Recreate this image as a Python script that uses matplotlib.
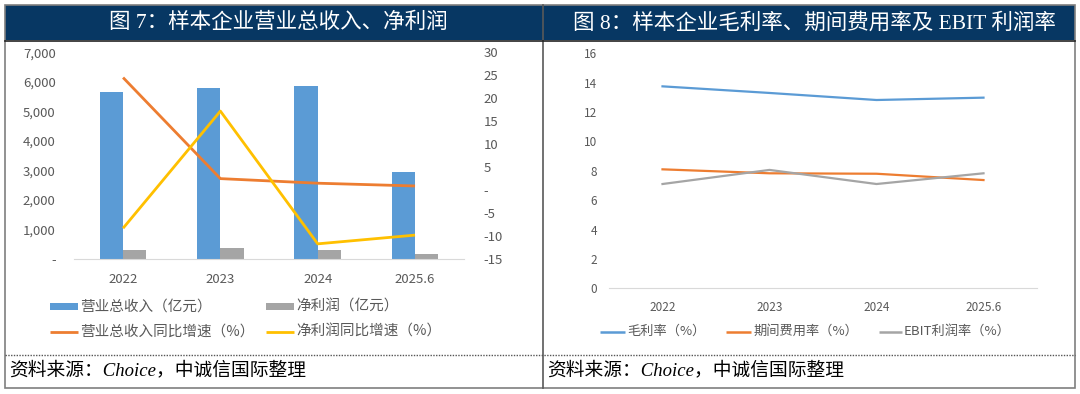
import numpy as np
import matplotlib
matplotlib.use("Agg")
import matplotlib.pyplot as plt
from matplotlib.patches import Rectangle
from matplotlib.lines import Line2D

plt.rcParams['font.family'] = ['Noto Sans CJK SC', 'DejaVu Sans']

# ---- data ----
years = ['2022', '2023', '2024', '2025.6']
revenue = [5640, 5780, 5870, 2950]          # 营业总收入（亿元）
net_profit = [300, 360, 300, 170]           # 净利润（亿元）
revenue_yoy = [24.5, 2.5, 1.5, 0.9]         # 营业总收入同比增速（%）
profit_yoy = [-8.3, 17.2, -11.7, -9.8]      # 净利润同比增速（%）

gross_margin = [13.75, 13.3, 12.82, 12.98]  # 毛利率（%）
expense_ratio = [8.1, 7.83, 7.8, 7.37]      # 期间费用率（%）
ebit_margin = [7.1, 8.06, 7.1, 7.83]        # EBIT利润率（%）

left_ticks = [0, 1000, 2000, 3000, 4000, 5000, 6000, 7000]
right_ticks = [-15, -10, -5, 0, 5, 10, 15, 20, 25, 30]
margin_ticks = [0, 2, 4, 6, 8, 10, 12, 14, 16]

BLUE = '#5b9bd5'
GREY = '#a5a5a5'
ORANGE = '#ed7d31'
YELLOW = '#ffc000'
TXT = '#595959'
NAVY = '#073763'

W, H = 1080, 394
fig = plt.figure(figsize=(W / 100, H / 100), dpi=100)


def fx(px):
    return px / W


def fy(py):
    return 1 - py / H


def fmt_thousands(v):
    return '-' if v == 0 else f'{v:,}'


def fmt_plain(v):
    return '-' if v == 0 else f'{v}'


# ---- frame, banners, source ----
fig.add_artist(Rectangle((fx(5), fy(40)), fx(1075) - fx(5), (40 - 5) / H,
                         transform=fig.transFigure, facecolor=NAVY, edgecolor='none'))
fig.add_artist(Rectangle((fx(5), fy(387.5)), fx(1075) - fx(5), (387.5 - 5) / H,
                         transform=fig.transFigure, facecolor='none', edgecolor='#7f7f7f', lw=1.2))
fig.add_artist(Line2D([fx(542.7)] * 2, [fy(5), fy(387.5)], transform=fig.transFigure,
                      color='#595959', lw=1.2))
fig.add_artist(Line2D([fx(5), fx(1075)], [fy(40.5)] * 2, transform=fig.transFigure,
                      color='#222222', lw=1.2))
fig.add_artist(Line2D([fx(5), fx(1075)], [fy(355)] * 2, transform=fig.transFigure,
                      color='#555555', lw=1.0, ls=(0, (1, 1))))

title_font = ['Liberation Serif', 'Noto Sans CJK SC']
fig.text(fx(278), fy(23), '图 7：样本企业营业总收入、净利润', color='white',
         fontsize=15.5, family=title_font, ha='center', va='center')
fig.text(fx(814), fy(23), '图 8：样本企业毛利率、期间费用率及 EBIT 利润率', color='white',
         fontsize=15.5, family=title_font, ha='center', va='center')

src_font = ['Liberation Serif', 'Noto Sans CJK SC']
for x0 in (9, 547):
    fig.text(fx(x0), fy(370), '资料来源：Choice，中诚信国际整理', color='black',
             fontsize=13.5, family=src_font, style='italic', ha='left', va='center')

# ---- left chart: revenue & net profit ----
x = np.arange(len(years))
ax1 = fig.add_axes([fx(74.4), fy(259), fx(463.7) - fx(74.4), (259 - 52.3) / H])
bw = 0.24
ax1.bar(x - bw / 2, revenue, width=bw, color=BLUE, zorder=2)
ax1.bar(x + bw / 2, net_profit, width=bw, color=GREY, zorder=2)
ax1.set_xlim(-0.5, len(years) - 0.5)
ax1.set_ylim(0, 7000)
ax1.set_yticks(left_ticks)
ax1.set_yticklabels([fmt_thousands(v) for v in left_ticks])
ax1.set_xticks(x)
ax1.set_xticklabels(years)

ax2 = ax1.twinx()
ax2.plot(x, revenue_yoy, color=ORANGE, lw=2.0, solid_capstyle='butt')
ax2.plot(x, profit_yoy, color=YELLOW, lw=2.0, solid_capstyle='butt')
ax2.set_ylim(-15, 30)
ax2.set_yticks(right_ticks)
ax2.set_yticklabels([fmt_plain(v) for v in right_ticks])

for a in (ax1, ax2):
    for s in a.spines.values():
        s.set_visible(False)
    a.set_facecolor('none')
ax1.spines['bottom'].set_visible(True)
ax1.spines['bottom'].set_color('#d9d9d9')
ax1.spines['bottom'].set_linewidth(0.8)
ax1.tick_params(axis='y', length=0, pad=13.5, labelsize=9.5, labelcolor=TXT)
ax1.tick_params(axis='x', length=0, pad=10, labelsize=9.5, labelcolor=TXT)
ax2.tick_params(axis='y', length=0, pad=14.5, labelsize=9.5, labelcolor=TXT)

# ---- right chart: margins ----
ax3 = fig.add_axes([fx(609), fy(288.3), fx(1037) - fx(609), (288.3 - 53.3) / H])
ax3.plot(x, gross_margin, color=BLUE, lw=1.6)
ax3.plot(x, expense_ratio, color=ORANGE, lw=1.6)
ax3.plot(x, ebit_margin, color=GREY, lw=1.6)
ax3.set_xlim(-0.5, len(years) - 0.5)
ax3.set_ylim(0, 16)
ax3.set_yticks(margin_ticks)
ax3.set_xticks(x)
ax3.set_xticklabels(years)
for s in ax3.spines.values():
    s.set_visible(False)
ax3.spines['bottom'].set_visible(True)
ax3.spines['bottom'].set_color('#d9d9d9')
ax3.spines['bottom'].set_linewidth(0.8)
ax3.tick_params(axis='y', length=0, pad=8.6, labelsize=8.5, labelcolor=TXT)
ax3.tick_params(axis='x', length=0, pad=9.5, labelsize=8.5, labelcolor=TXT)

# ---- legends (placed by hand in pixel positions) ----
def legend_patch(x0, x1, y, color, label, size):
    fig.add_artist(Rectangle((fx(x0), fy(y + 3.7)), fx(x1) - fx(x0), 7.4 / H,
                             transform=fig.transFigure, facecolor=color, edgecolor='none'))
    fig.text(fx(x1 + 2), fy(y), label, color=TXT, fontsize=size, ha='left', va='center')


def legend_line(x0, x1, y, color, label, size, lw):
    fig.add_artist(Line2D([fx(x0), fx(x1)], [fy(y)] * 2, transform=fig.transFigure,
                          color=color, lw=lw, solid_capstyle='butt'))
    fig.text(fx(x1 + 2), fy(y), label, color=TXT, fontsize=size, ha='left', va='center')


legend_patch(50, 78, 306.7, BLUE, '营业总收入（亿元）', 10.5)
legend_patch(266, 294, 306.7, GREY, '净利润（亿元）', 10.5)
legend_line(50, 78, 331.7, ORANGE, '营业总收入同比增速（%）', 10.5, 2.0)
legend_line(266, 294, 331.7, YELLOW, '净利润同比增速（%）', 10.5, 2.0)

legend_line(599.5, 625, 331.7, BLUE, '毛利率（%）', 9.5, 1.8)
legend_line(726, 751, 331.7, ORANGE, '期间费用率（%）', 9.5, 1.8)
legend_line(879, 902, 331.7, GREY, 'EBIT利润率（%）', 9.5, 1.8)

fig.savefig('out.png', dpi=100)
